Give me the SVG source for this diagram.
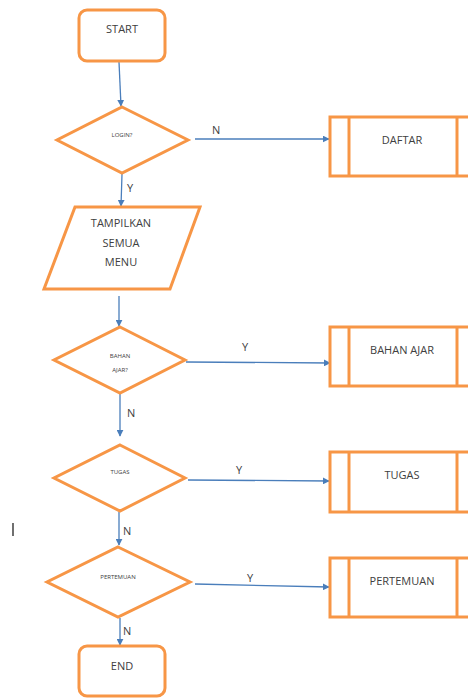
<svg xmlns="http://www.w3.org/2000/svg" width="468" height="698" viewBox="0 0 468 698">
<defs>
<marker id="ah" viewBox="0 0 10 10" refX="9" refY="5" markerWidth="7" markerHeight="7" markerUnits="userSpaceOnUse" orient="auto"><path d="M0,0 L10,5 L0,10 z" fill="#4A7EBB"/></marker>
<style>
.sh{fill:#fff;stroke:#F79646;stroke-width:3;stroke-linejoin:miter}
.t{font-family:"Open Sans","Liberation Sans",sans-serif;fill:#404040;text-anchor:middle}
.m{font-size:11px}
.s{font-size:6px}
.c{stroke:#4A7EBB;stroke-width:1.3;fill:none;marker-end:url(#ah)}
.l{font-family:"Open Sans","Liberation Sans",sans-serif;font-size:11px;fill:#404040}
</style>
</defs>
<rect width="468" height="698" fill="#fff"/>
<g id="connectors">
<line class="c" x1="119" y1="62" x2="121" y2="106"/>
<line class="c" x1="195" y1="139" x2="329" y2="139"/>
<line class="c" x1="122" y1="174" x2="121" y2="206"/>
<line class="c" x1="119" y1="296" x2="119" y2="326"/>
<line class="c" x1="186" y1="362" x2="330" y2="363"/>
<line class="c" x1="120" y1="394" x2="120" y2="436"/>
<line class="c" x1="188" y1="480" x2="329" y2="481"/>
<line class="c" x1="119" y1="512" x2="119" y2="545"/>
<line class="c" x1="195" y1="584" x2="329" y2="587"/>
<line class="c" x1="120" y1="618" x2="120" y2="645"/>
<text class="l" x="212" y="134">N</text>
<text class="l" x="127" y="192">Y</text>
<text class="l" x="242" y="351">Y</text>
<text class="l" x="127" y="417">N</text>
<text class="l" x="236" y="474">Y</text>
<text class="l" x="123" y="535">N</text>
<text class="l" x="247" y="582">Y</text>
<text class="l" x="123" y="635">N</text>
</g>
<g id="start"><rect class="sh" x="79" y="10" width="86" height="51" rx="8"/><text class="t m" x="122" y="33">START</text></g>
<g id="login"><polygon class="sh" points="122,107 188,140 122,173 57,140"/><text class="t s" x="122" y="137">LOGIN?</text></g>
<g id="daftar"><rect class="sh" x="330" y="117" width="142" height="59"/><line class="sh" x1="349" y1="117" x2="349" y2="176"/><line class="sh" x1="457" y1="117" x2="457" y2="176"/><text class="t m" x="402" y="144">DAFTAR</text></g>
<g id="tampilkan"><polygon class="sh" points="75,207 200,207 170,289 44,289"/><text class="t m" x="121" y="227">TAMPILKAN</text><text class="t m" x="121" y="247">SEMUA</text><text class="t m" x="121" y="266">MENU</text></g>
<g id="bahan"><polygon class="sh" points="120,327 185,360 120,393 54,360"/><text class="t s" x="120" y="358">BAHAN</text><text class="t s" x="120" y="372">AJAR?</text></g>
<g id="bahanajar"><rect class="sh" x="330" y="327" width="142" height="59"/><line class="sh" x1="349" y1="327" x2="349" y2="386"/><line class="sh" x1="457" y1="327" x2="457" y2="386"/><text class="t m" x="402" y="354">BAHAN AJAR</text></g>
<g id="tugasq"><polygon class="sh" points="120,445 185,478 120,511 54,478"/><text class="t s" x="120" y="474">TUGAS</text></g>
<g id="tugas"><rect class="sh" x="330" y="452" width="142" height="60"/><line class="sh" x1="349" y1="452" x2="349" y2="512"/><line class="sh" x1="457" y1="452" x2="457" y2="512"/><text class="t m" x="402" y="479">TUGAS</text></g>
<g id="pertemuanq"><polygon class="sh" points="118,547 190,582 118,617 47,582"/><text class="t s" x="118" y="579">PERTEMUAN</text></g>
<g id="pertemuan"><rect class="sh" x="330" y="558" width="142" height="59"/><line class="sh" x1="349" y1="558" x2="349" y2="617"/><line class="sh" x1="457" y1="558" x2="457" y2="617"/><text class="t m" x="402" y="585">PERTEMUAN</text></g>
<g id="end"><rect class="sh" x="79" y="646" width="86" height="50" rx="8"/><text class="t m" x="122" y="670">END</text></g>
<line x1="13" y1="523" x2="13" y2="536" stroke="#222" stroke-width="1.3"/>
</svg>
